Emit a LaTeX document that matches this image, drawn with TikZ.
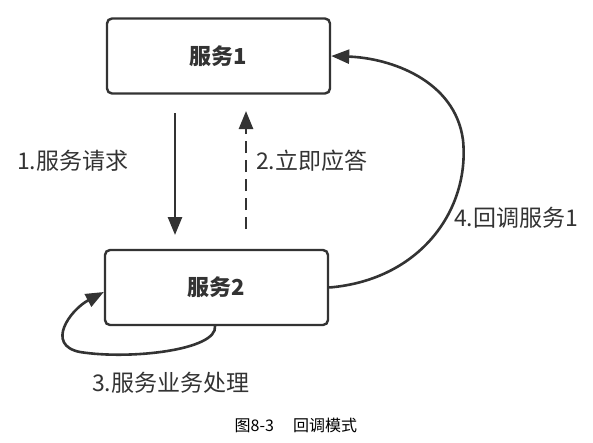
\documentclass[tikz,border=0pt]{standalone}
\usepackage{fontspec}
\setmainfont{Noto Sans CJK SC}
\usetikzlibrary{arrows.meta}
\definecolor{ink}{HTML}{333333}
\begin{document}
\begin{tikzpicture}[x=1pt,y=-1pt,
  svc/.style={draw=ink,line width=2.4pt,rounded corners=5pt,minimum width=223pt,minimum height=75pt,font=\fontsize{22}{26}\selectfont\bfseries,text=ink,inner sep=0pt},
  lbl/.style={font=\fontsize{23}{26}\selectfont,text=ink,anchor=west,inner sep=0pt},
  conn/.style={draw=ink,line width=2.6pt,-{Triangle[length=18pt,width=14pt]}}]
\fill[white] (0,0) rectangle (593,442);
\useasboundingbox (0,0) rectangle (593,442);
\node[svc] (s1) at (218.5,56) {服务1};
\node[svc] (s2) at (216.5,287.5) {服务2};
\coordinate (d1) at (175,113);
\coordinate (d2) at (175,235);
\coordinate (u1) at (246,229);
\coordinate (u2) at (246,111);
\draw[conn] (d1) -- (d2);
\draw[conn,dash pattern=on 12pt off 7pt] (u1) -- (u2);
\draw[conn] (s2.east) .. controls (420,280) and (470,210) .. (463,140) .. controls (455,80) and (390,58) .. (s1.east);
\draw[conn] (215,326) .. controls (218,350) and (130,360) .. (80,352) .. controls (45,345) and (70,310) .. (s2.west |- 0,292);
\node[lbl] (l1) at (17,161) {1.服务请求};
\node[lbl] (l2) at (256,161) {2.立即应答};
\node[lbl] (l4) at (454,218) {4.回调服务1};
\node[lbl] (l3) at (92,383) {3.服务业务处理};
\node[font=\fontsize{16}{20}\selectfont,text=black,inner sep=0pt] (cap) at (296,425) {图8-3\hspace{1.2em}回调模式};
\end{tikzpicture}
\end{document}
